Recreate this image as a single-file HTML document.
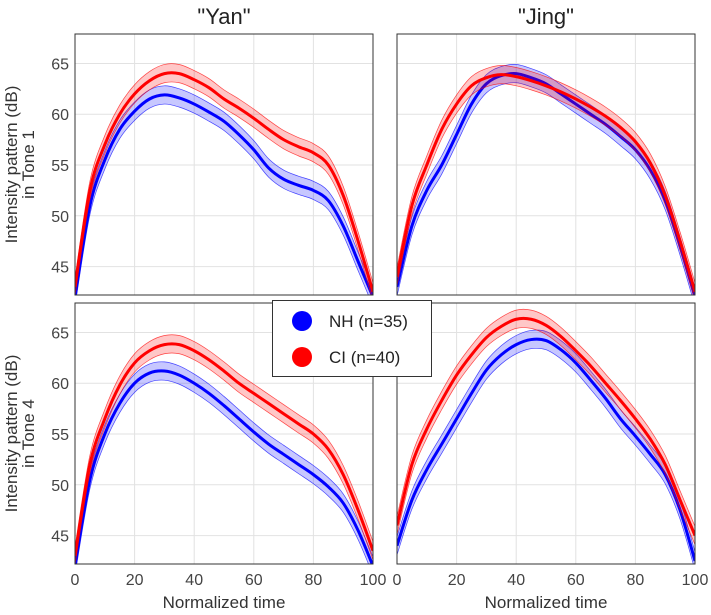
<!DOCTYPE html>
<html><head><meta charset="utf-8">
<style>
html,body{margin:0;padding:0;background:#fff;}
svg{display:block;font-family:"Liberation Sans",sans-serif;}
</style></head>
<body>
<svg id="chart" width="711" height="615" viewBox="0 0 711 615"></svg>
<script>
const xCats = [0,5,10,15,20,25,30,35,40,45,50,55,60,65,70,75,80,85,90,95,100];
const yanT1NH = [42,51,55.5,58.5,60.3,61.5,61.9,61.6,61,60.2,59.3,58,56.5,54.7,53.6,53,52.5,51.5,49,45.5,42];
const yanT1CI = [43,52.5,57,60,62,63.3,64,64,63.4,62.6,61.5,60.6,59.6,58.5,57.5,56.8,56.2,55,52,47.5,42.5];
const jingT1NH = [43,49,52.5,55,58,61,63,63.8,64,63.6,63,62,61,60,59,57.8,56.5,54.5,51.5,47,42];
const jingT1CI = [44,51,55,58.5,61,62.8,63.6,63.9,63.7,63.3,62.8,62.2,61.5,60.7,59.8,58.7,57.3,55.2,52,47.5,42.5];
const yanT4NH = [42,50.5,55,58,60,61,61.2,60.8,60,59,57.8,56.5,55.2,54,53,52,51,49.8,48.2,45.5,42];
const yanT4CI = [43,52,56.5,59.8,62,63.2,63.8,63.8,63.2,62.3,61.2,60,59,58,57,56,55,53.5,51,47.5,43.5];
const jingT4NH = [44,48.5,51.5,54,56.5,59,61.3,62.8,63.8,64.3,64.2,63.3,62,60.3,58.5,56.5,54.8,53,51,47.5,42.5];
const jingT4CI = [46,52,55.5,58.3,60.8,62.8,64.5,65.6,66.3,66.3,65.7,64.6,63.2,61.7,60,58.3,56.5,54.5,52,48.5,45];
const bandHalf = 0.9;
const xTicks = [0,20,40,60,80,100];
const yTicks = [45,50,55,60,65];
const titles = ['"Yan"','"Jing"'];

const NS="http://www.w3.org/2000/svg";
const svg=document.getElementById('chart');
function mk(tag,attrs,parent){const e=document.createElementNS(NS,tag);for(const k in attrs)e.setAttribute(k,attrs[k]);(parent||svg).appendChild(e);return e;}

const panels=[
 {x0:75,x1:373,y0:34,y1:295,nh:yanT1NH,ci:yanT1CI,name:'yan-tone1'},
 {x0:397,x1:695,y0:34,y1:295,nh:jingT1NH,ci:jingT1CI,name:'jing-tone1'},
 {x0:75,x1:373,y0:303,y1:564,nh:yanT4NH,ci:yanT4CI,name:'yan-tone4'},
 {x0:397,x1:695,y0:303,y1:564,nh:jingT4NH,ci:jingT4CI,name:'jing-tone4'}
];
const yMin=42.2,yMax=67.9;

function smoothPath(pts){
 let d='M'+pts[0][0].toFixed(2)+','+pts[0][1].toFixed(2);
 for(let i=0;i<pts.length-1;i++){
  const p0=pts[i-1]||pts[i],p1=pts[i],p2=pts[i+1],p3=pts[i+2]||pts[i+1];
  const c1=[p1[0]+(p2[0]-p0[0])/6,p1[1]+(p2[1]-p0[1])/6];
  const c2=[p2[0]-(p3[0]-p1[0])/6,p2[1]-(p3[1]-p1[1])/6];
  d+=' C'+c1[0].toFixed(2)+','+c1[1].toFixed(2)+' '+c2[0].toFixed(2)+','+c2[1].toFixed(2)+' '+p2[0].toFixed(2)+','+p2[1].toFixed(2);
 }
 return d;
}

panels.forEach((p,pi)=>{
 const sx=v=>p.x0+(v-0)/100*(p.x1-p.x0);
 const sy=v=>p.y1-(v-yMin)/(yMax-yMin)*(p.y1-p.y0);
 const g=mk('g',{});
 
 
 mk('rect',{x:p.x0,y:p.y0,width:p.x1-p.x0,height:p.y1-p.y0,fill:'#fff'},g);
 xTicks.forEach(t=>{
  const l=mk('line',{x1:sx(t),x2:sx(t),y1:p.y0,y2:p.y1,stroke:'#e2e2e2','stroke-width':1},g);
  
  
 });
 yTicks.forEach(t=>{
  const l=mk('line',{x1:p.x0,x2:p.x1,y1:sy(t),y2:sy(t),stroke:'#e2e2e2','stroke-width':1},g);
  
  
 });
 const cid='clip'+pi;
 const cp=mk('clipPath',{id:cid},g);
 mk('rect',{x:p.x0,y:p.y0,width:p.x1-p.x0,height:p.y1-p.y0},cp);
 const cg=mk('g',{'clip-path':'url(#'+cid+')'},g);
 [[p.nh,'#0000ff','rgba(0,0,255,0.22)','nh'],[p.ci,'#ff0000','rgba(255,0,0,0.22)','ci']].forEach(([vals,col,fill,nm])=>{
  const up=xCats.map((x,i)=>[sx(x),sy(vals[i]+bandHalf)]);
  const lo=xCats.map((x,i)=>[sx(x),sy(vals[i]-bandHalf)]).reverse();
  const band=mk('path',{d:smoothPath(up)+' L'+smoothPath(lo).slice(1)+' Z',fill:fill,stroke:'none'},cg);
  
  
  [up,lo].forEach(pts=>{
   const b=mk('path',{d:smoothPath(pts),fill:'none',stroke:col,'stroke-width':0.7,'stroke-opacity':0.7},cg);
   
   
  });
  const mean=mk('path',{d:smoothPath(xCats.map((x,i)=>[sx(x),sy(vals[i])])),fill:'none',stroke:col,'stroke-width':3},cg);
  
  
 });
 const fr=mk('rect',{x:p.x0,y:p.y0,width:p.x1-p.x0,height:p.y1-p.y0,fill:'none',stroke:'#333','stroke-width':1},g);
 
 
 if(pi%2===0){
  yTicks.forEach(t=>{
   const tx=mk('text',{x:p.x0-6,y:sy(t)+6,'text-anchor':'end','font-size':16,fill:'#444'},g);
   tx.textContent=t;
   
   
  });
 }
 if(pi>=2){
  xTicks.forEach(t=>{
   const tx=mk('text',{x:sx(t),y:p.y1+21,'text-anchor':'middle','font-size':16,fill:'#444'},g);
   tx.textContent=t;
   
   
  });
  const xl=mk('text',{x:(p.x0+p.x1)/2,y:608,'text-anchor':'middle','font-size':17,fill:'#333'},g);
  xl.textContent='Normalized time';
  
  
 } else {
  const tt=mk('text',{x:(p.x0+p.x1)/2,y:24,'text-anchor':'middle','font-size':22,fill:'#222'},g);
  tt.textContent=titles[pi];
  
  
 }
 if(pi%2===0){
  const cy=(p.y0+p.y1)/2;
  const yl=mk('text',{transform:'translate(0,'+cy+') rotate(-90)','text-anchor':'middle','font-size':17,fill:'#333'},g);
  
  
  const t1=mk('tspan',{x:0,y:17},yl); t1.textContent='Intensity pattern (dB)';
  const t2=mk('tspan',{x:0,y:34},yl); t2.textContent=pi===0?'in Tone 1':'in Tone 4';
 }
});

// legend
const lg=mk('g',{});


mk('rect',{x:272.5,y:300.5,width:159,height:76,fill:'#fff',stroke:'#333','stroke-width':1},lg);
[['NH (n=35)','#0000ff',321],['CI (n=40)','#ff0000',357]].forEach(([lab,col,y])=>{
 const e=mk('g',{},lg);
 
 
 mk('circle',{cx:302,cy:y,r:10,fill:col},e);
 const t=mk('text',{x:329,y:y+6,'font-size':17,fill:'#222'},e);
 t.textContent=lab;
});
</script>
</body></html>
